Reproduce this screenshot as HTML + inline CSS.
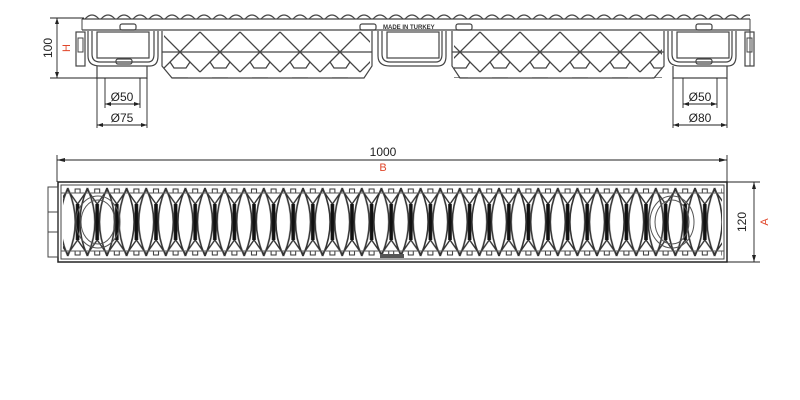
<!DOCTYPE html>
<html><head><meta charset="utf-8"><style>
html,body{margin:0;padding:0;background:#fff;}
svg{display:block;font-family:"Liberation Sans",sans-serif;}
</style></head><body>
<svg width="800" height="400" viewBox="0 0 800 400" xmlns="http://www.w3.org/2000/svg">
<defs>
<pattern id="wave" x="84" y="12" width="16" height="8" patternUnits="userSpaceOnUse">
<path d="M1,7 Q8,-1 15,7" fill="none" stroke="#444" stroke-width="1.2"/>
</pattern>
<pattern id="latt" x="0" y="31" width="40" height="48" patternUnits="userSpaceOnUse">
<path d="M0,1 L20,21 L40,1 M0,41 L20,21 L40,41 M12,47 L28,47 M20,21 L10,31 L14,37 L26,37 L30,31 Z" fill="none" stroke="#444" stroke-width="1.3"/>
</pattern>
<pattern id="grate" x="48.2" y="186" width="19.6" height="72" patternUnits="userSpaceOnUse">
<path d="M0,2 Q15,36 0,70 M19.6,2 Q4.6,36 19.6,70" fill="none" stroke="#333" stroke-width="1.6"/>
<path d="M0,4 L9.8,18 L19.6,4 M0,68 L9.8,54 L19.6,68" fill="none" stroke="#333" stroke-width="1.4"/>
<rect x="8" y="18" width="3.6" height="36" fill="#111"/>
<rect x="7.3" y="3" width="5" height="4" fill="none" stroke="#333" stroke-width="1"/>
<rect x="7.3" y="65" width="5" height="4" fill="none" stroke="#333" stroke-width="1"/>
</pattern>
</defs>

<!-- TOP VIEW -->
<rect x="84" y="12" width="666" height="8" fill="url(#wave)"/>
<line x1="82" y1="19" x2="750" y2="19" stroke="#444" stroke-width="1.2"/>
<line x1="82" y1="30" x2="750" y2="30" stroke="#444" stroke-width="1.2"/>
<line x1="82" y1="19" x2="82" y2="30" stroke="#444"/>
<line x1="750" y1="19" x2="750" y2="66" stroke="#444"/>
<rect x="76" y="32" width="9" height="34" fill="none" stroke="#444" stroke-width="1.2"/>
<rect x="78" y="38" width="5" height="14" fill="none" stroke="#444"/>
<rect x="745" y="32" width="9" height="34" fill="none" stroke="#444" stroke-width="1.2"/>
<rect x="747" y="38" width="5" height="14" fill="none" stroke="#444"/>
<g fill="none" stroke="#444" stroke-width="1.2">
<path d="M88,31 L88,56 Q88,66 100,66 L150,66 Q158,66 158,56 L158,31"/>
<path d="M92,31 L92,54 Q92,62 100,62 L148,62 Q154,62 154,54 L154,31"/>
<rect x="97" y="32" width="52" height="26"/>
<path d="M378,31 L378,56 Q378,66 390,66 L438,66 Q446,66 446,56 L446,31"/>
<path d="M382,31 L382,54 Q382,62 390,62 L436,62 Q442,62 442,54 L442,31"/>
<rect x="387" y="32" width="52" height="26"/>
<path d="M668,31 L668,56 Q668,66 680,66 L728,66 Q736,66 736,56 L736,31"/>
<path d="M672,31 L672,54 Q672,62 680,62 L726,62 Q732,62 732,54 L732,31"/>
<rect x="677" y="32" width="52" height="26"/>
<rect x="116" y="59" width="16" height="5" rx="2"/>
<rect x="696" y="59" width="16" height="5" rx="2"/>
<rect x="120" y="24" width="16" height="6" rx="2"/>
<rect x="360" y="24" width="16" height="6" rx="2"/>
<rect x="456" y="24" width="16" height="6" rx="2"/>
<rect x="696" y="24" width="16" height="6" rx="2"/>
<path d="M97,66 L97,78 L147,78 L147,66"/>
<path d="M673,66 L673,78 L727,78 L727,66"/>
<path d="M162,31 L162,66 L172,78 L364,78 L372,66 L372,31"/>
<path d="M452,31 L452,66 L460,78 L654,78 L664,66 L664,31"/>
<line x1="162" y1="52" x2="372" y2="52"/>
<line x1="452" y1="52" x2="664" y2="52"/>
</g>
<rect x="164" y="31" width="206" height="47" fill="url(#latt)"/>
<rect x="454" y="31" width="208" height="47" fill="url(#latt)"/>
<text x="383" y="29" font-size="6" font-weight="bold" fill="#333">MADE IN TURKEY</text>

<g stroke="#222" stroke-width="0.9" fill="none">
<line x1="50" y1="18" x2="84" y2="18"/><line x1="50" y1="78" x2="97" y2="78"/>
<line x1="57" y1="18" x2="57" y2="78"/>
<line x1="105" y1="78" x2="105" y2="108"/><line x1="140" y1="78" x2="140" y2="108"/>
<line x1="97" y1="78" x2="97" y2="128"/><line x1="147" y1="78" x2="147" y2="128"/>
<line x1="105" y1="104" x2="140" y2="104"/><line x1="97" y1="125" x2="147" y2="125"/>
<line x1="683" y1="78" x2="683" y2="108"/><line x1="717" y1="78" x2="717" y2="108"/>
<line x1="673" y1="78" x2="673" y2="128"/><line x1="727" y1="78" x2="727" y2="128"/>
<line x1="683" y1="104" x2="717" y2="104"/><line x1="673" y1="125" x2="727" y2="125"/>
</g>
<g fill="#222">
<path d="M57,18 l-2,6 h4z"/><path d="M57,78 l-2,-6 h4z"/>
<path d="M105,104 l6,-2 v4z"/><path d="M140,104 l-6,-2 v4z"/>
<path d="M97,125 l6,-2 v4z"/><path d="M147,125 l-6,-2 v4z"/>
<path d="M683,104 l6,-2 v4z"/><path d="M717,104 l-6,-2 v4z"/>
<path d="M673,125 l6,-2 v4z"/><path d="M727,125 l-6,-2 v4z"/>
</g>
<text x="52" y="48" font-size="12" fill="#222" text-anchor="middle" transform="rotate(-90 52 48)">100</text>
<text x="70" y="48" font-size="11" fill="#e0462a" text-anchor="middle" transform="rotate(-90 70 48)">H</text>
<text x="122" y="101" font-size="12" fill="#222" text-anchor="middle">Ø50</text>
<text x="122" y="122" font-size="12" fill="#222" text-anchor="middle">Ø75</text>
<text x="700" y="101" font-size="12" fill="#222" text-anchor="middle">Ø50</text>
<text x="700" y="122" font-size="12" fill="#222" text-anchor="middle">Ø80</text>

<!-- BOTTOM VIEW -->
<g stroke="#222" stroke-width="0.9" fill="none">
<line x1="57" y1="155" x2="57" y2="182"/><line x1="727" y1="155" x2="727" y2="182"/>
<line x1="57" y1="160" x2="727" y2="160"/>
<line x1="727" y1="182" x2="760" y2="182"/><line x1="727" y1="262" x2="760" y2="262"/>
<line x1="754" y1="182" x2="754" y2="262"/>
</g>
<g fill="#222">
<path d="M57,160 l8,-2 v4z"/><path d="M727,160 l-8,-2 v4z"/>
<path d="M754,182 l-2,7 h4z"/><path d="M754,262 l-2,-7 h4z"/>
</g>
<text x="383" y="156" font-size="12" fill="#222" text-anchor="middle">1000</text>
<text x="383" y="171" font-size="11" fill="#e0462a" text-anchor="middle">B</text>
<text x="746" y="222" font-size="12" fill="#222" text-anchor="middle" transform="rotate(-90 746 222)">120</text>
<text x="768" y="222" font-size="11" fill="#e0462a" text-anchor="middle" transform="rotate(-90 768 222)">A</text>

<rect x="58" y="182" width="669" height="80" fill="none" stroke="#222" stroke-width="1.5"/>
<rect x="61" y="185" width="663" height="74" fill="none" stroke="#444" stroke-width="1"/>
<rect x="48" y="187" width="10" height="70" fill="none" stroke="#444" stroke-width="1"/>
<line x1="48" y1="212" x2="58" y2="212" stroke="#444"/><line x1="48" y1="232" x2="58" y2="232" stroke="#444"/>
<rect x="63" y="186" width="659" height="72" fill="url(#grate)"/>
<g stroke="#555" stroke-width="1" fill="none">
<line x1="61" y1="193" x2="724" y2="193"/><line x1="61" y1="251" x2="724" y2="251"/>
<ellipse cx="98" cy="222" rx="22" ry="26"/><ellipse cx="98" cy="222" rx="17" ry="22"/>
<ellipse cx="672" cy="222" rx="22" ry="26"/><ellipse cx="672" cy="222" rx="17" ry="22"/>
</g>
<rect x="380" y="254" width="24" height="4" fill="#555"/>
</svg>
</body></html>
